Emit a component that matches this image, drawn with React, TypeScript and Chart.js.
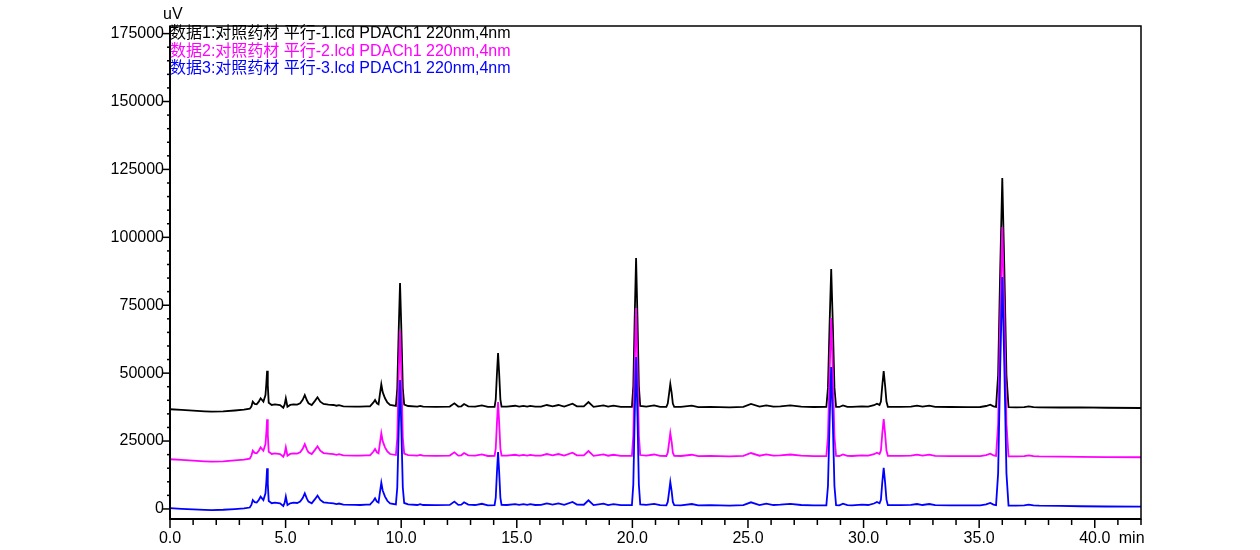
import React, { useEffect, useRef } from "react";
import { Chart, registerables } from "chart.js";

Chart.register(...registerables);

// Retention time (min)
const times = [
  0, 0.5, 1.0, 1.5, 1.8, 2.3, 2.8, 3.2, 3.45, 3.52,
  3.58, 3.66, 3.75, 3.84, 3.92, 4.04, 4.13, 4.17, 4.2, 4.23,
  4.27, 4.4, 4.54, 4.76, 4.9, 4.96, 5.01, 5.08, 5.2, 5.34,
  5.5, 5.63, 5.74, 5.83, 5.92, 5.99, 6.13, 6.27, 6.38, 6.5,
  6.64, 6.85, 7.07, 7.2, 7.31, 7.5, 8.0, 8.22, 8.5, 8.65,
  8.8, 8.87, 8.95, 9.02, 9.08, 9.14, 9.2, 9.3, 9.4, 9.52,
  9.77, 9.83, 9.89, 9.95, 10.01, 10.07, 10.13, 10.3, 10.7, 10.82,
  10.95, 11.5, 12.1, 12.3, 12.47, 12.6, 12.72, 12.9, 13.2, 13.49,
  13.75, 14.04, 14.09, 14.14, 14.19, 14.24, 14.29, 14.34, 14.57, 14.93,
  15.1, 15.29, 15.45, 15.58, 15.8, 16.05, 16.3, 16.55, 16.8, 17.05,
  17.41, 17.6, 17.9, 18.1, 18.32, 18.75, 18.95, 19.18, 19.5, 19.98,
  20.04, 20.1, 20.16, 20.22, 20.28, 20.34, 20.6, 20.94, 21.2, 21.47,
  21.53, 21.59, 21.64, 21.7, 21.75, 21.81, 22.1, 22.57, 22.85, 23.37,
  24.2, 24.8, 25.13, 25.5, 25.79, 26.1, 26.4, 26.83, 27.3, 27.84,
  28.39, 28.46, 28.53, 28.6, 28.67, 28.74, 28.81, 28.95, 29.11, 29.3,
  29.5, 29.93, 30.2, 30.45, 30.58, 30.69, 30.75, 30.81, 30.87, 30.93,
  30.99, 31.05, 31.6, 32.05, 32.31, 32.55, 32.84, 33.1, 33.75, 34.5,
  35.05, 35.3, 35.48, 35.62, 35.73, 35.82, 35.91, 36.0, 36.09, 36.18,
  36.27, 36.6, 36.95, 37.14, 37.35, 37.6, 38.5, 39.38, 40.5, 42.0,
];

// 数据1 (black), uV
const data1 = [
  36700, 36450, 36200, 35950, 35810, 35950, 36250, 36550, 36900, 37700,
  39490, 38700, 38530, 39500, 40740, 39490, 41950, 46500, 50900, 45500,
  39120, 38300, 38530, 38270, 37280, 38500, 40740, 37650, 38300, 38530,
  38400, 38900, 40200, 41950, 40000, 38900, 38270, 39800, 41110, 39500,
  38640, 38400, 38270, 38000, 38200, 37800, 37700, 37650, 37800, 37790,
  39200, 40110, 38900, 38530, 42300, 45890, 43000, 40740, 39200, 38270,
  37900, 44240, 65060, 83170, 65200, 44400, 38400, 37900, 37650, 37950,
  37650, 37600, 37700, 38900, 37700, 37800, 38640, 37800, 37650, 38100,
  37550, 37600, 40370, 49480, 57400, 49480, 40370, 37700, 37650, 38000,
  37700, 37950, 37700, 37950, 37650, 37700, 38270, 37800, 38270, 37700,
  38760, 37800, 37750, 39380, 37600, 38150, 37650, 38000, 37600, 37600,
  45270, 70460, 92370, 70460, 45270, 37900, 37700, 38100, 37600, 37550,
  38780, 42640, 46000, 42640, 38780, 37600, 37550, 38010, 37500, 37600,
  37420, 37600, 38640, 37650, 38140, 37650, 37800, 38100, 37650, 37530,
  37550, 44660, 68010, 88320, 68010, 44660, 37600, 37550, 38140, 37600,
  37550, 37780, 37650, 38200, 38760, 38300, 39530, 45550, 50780, 45550,
  39530, 37600, 37600, 37700, 38020, 37650, 38020, 37600, 37530, 37500,
  37530, 37900, 38390, 37800, 37600, 49300, 88090, 121810, 88090, 49300,
  37450, 37400, 37500, 37780, 37500, 37400, 37350, 37410, 37250, 37170,
];

// 数据2 (magenta), uV
const data2 = [
  18300, 18050, 17800, 17550, 17420, 17550, 17850, 18150, 18500, 19650,
  21440, 20650, 20480, 21450, 22690, 21440, 23900, 28450, 33010, 27450,
  21070, 20250, 20480, 20220, 19230, 20450, 22690, 19600, 20250, 20480,
  20350, 20850, 22150, 23900, 21950, 20850, 20220, 21750, 23060, 21450,
  20590, 20350, 20220, 19950, 20150, 19750, 19650, 19600, 19750, 19740,
  21150, 22060, 20850, 20480, 24250, 27860, 24950, 22690, 21150, 20220,
  19850, 26000, 48500, 65870, 48600, 26200, 20350, 19850, 19600, 19900,
  19600, 19550, 19650, 20850, 19650, 19750, 20590, 19750, 19600, 20050,
  19500, 19550, 22320, 31430, 39380, 31430, 22320, 19650, 19600, 19950,
  19650, 19900, 19650, 19900, 19600, 19650, 20220, 19750, 20220, 19650,
  20710, 19750, 19700, 21330, 19550, 20100, 19600, 19950, 19550, 19550,
  27000, 52200, 73970, 52200, 27000, 19850, 19650, 20050, 19550, 19500,
  20730, 24590, 27970, 24590, 20730, 19550, 19500, 19960, 19450, 19550,
  19370, 19550, 20590, 19600, 20090, 19600, 19750, 20050, 19600, 19480,
  19500, 26610, 49960, 70290, 49960, 26610, 19550, 19500, 20090, 19550,
  19500, 19730, 19600, 20150, 20710, 20250, 21500, 27800, 33120, 27800,
  21500, 19550, 19550, 19650, 19970, 19600, 19970, 19550, 19480, 19450,
  19480, 19850, 20340, 19750, 19550, 31250, 70000, 103780, 70000, 31250,
  19400, 19350, 19450, 19730, 19450, 19350, 19300, 19200, 19100, 19030,
];

// 数据3 (blue), uV
const data3 = [
  270, 50, -150, -330, -400, -300, -50, 200, 520, 1500,
  3290, 2500, 2330, 3300, 4540, 3290, 5750, 10300, 14980, 9300,
  2920, 2100, 2330, 2070, 1080, 2300, 4540, 1450, 2100, 2330,
  2200, 2700, 4000, 5750, 3800, 2700, 2070, 3600, 4910, 3300,
  2440, 2200, 2070, 1800, 2000, 1600, 1500, 1450, 1600, 1590,
  3000, 3910, 2700, 2330, 6100, 9690, 6800, 4540, 3000, 2070,
  1700, 7800, 28400, 47470, 28500, 7900, 2200, 1700, 1450, 1750,
  1450, 1400, 1500, 2700, 1500, 1600, 2440, 1600, 1450, 1900,
  1350, 1400, 4200, 13200, 20980, 13200, 4200, 1500, 1450, 1800,
  1500, 1750, 1500, 1750, 1450, 1500, 2070, 1600, 2070, 1500,
  2560, 1600, 1550, 3180, 1400, 1950, 1450, 1800, 1400, 1400,
  9000, 34000, 55940, 34000, 9000, 1700, 1500, 1900, 1400, 1350,
  2580, 6440, 9940, 6440, 2580, 1400, 1350, 1810, 1300, 1400,
  1220, 1400, 2440, 1450, 1940, 1450, 1600, 1900, 1450, 1330,
  1350, 8460, 31810, 52260, 31810, 8460, 1400, 1350, 1940, 1400,
  1350, 1580, 1450, 2000, 2560, 2100, 3400, 9900, 15090, 9900,
  3400, 1400, 1400, 1500, 1820, 1450, 1820, 1400, 1330, 1300,
  1330, 1700, 2190, 1600, 1400, 13100, 51900, 85380, 51900, 13100,
  1250, 1200, 1300, 1580, 1300, 1200, 1100, 1000, 900, 850,
];

const seriesNames = [
  "数据1:对照药材 平行-1.lcd PDACh1 220nm,4nm",
  "数据2:对照药材 平行-2.lcd PDACh1 220nm,4nm",
  "数据3:对照药材 平行-3.lcd PDACh1 220nm,4nm",
];
const seriesColors = ["#000000", "#FF00FF", "#0000FF"];

const xLabelTicks = [0, 5, 10, 15, 20, 25, 30, 35, 40];
const yLabelTicks = [0, 25000, 50000, 75000, 100000, 125000, 150000, 175000];
const xMinorStep = 1;
const yMinorStep = 5000;
const X_MIN = 0;
const X_MAX = 42;
const Y_MIN = -3700;
const Y_MAX = 177800;
const yUnit = "uV";
const xUnit = "min";

const FONT_FAMILY = '"Liberation Sans", Arial, "Noto Sans CJK SC", sans-serif';

const framePlugin = {
  id: "chromFrame",
  afterDraw(chart: any) {
    const { ctx, chartArea: a } = chart;
    const xs = chart.scales.x;
    const ys = chart.scales.y;
    ctx.save();
    ctx.strokeStyle = "#000";
    ctx.lineWidth = 1.5;
    // x ticks
    for (let t = X_MIN; t <= X_MAX + 1e-9; t += xMinorStep) {
      const px = xs.getPixelForValue(t);
      const major = Math.abs(t % 5) < 1e-9;
      ctx.beginPath();
      ctx.moveTo(px, a.bottom);
      ctx.lineTo(px, a.bottom + (major ? 9 : 6));
      ctx.stroke();
    }
    // y ticks
    for (let v = 0; v <= yLabelTicks[yLabelTicks.length - 1]; v += yMinorStep) {
      const py = ys.getPixelForValue(v);
      const major = v % 25000 === 0;
      ctx.beginPath();
      ctx.moveTo(a.left, py);
      ctx.lineTo(a.left - (major ? 7 : 3), py);
      ctx.stroke();
    }
    // frame
    ctx.lineWidth = 1.5;
    ctx.strokeRect(a.left, a.top, a.right - a.left, a.bottom - a.top);
    ctx.lineWidth = 2;
    ctx.beginPath();
    ctx.moveTo(a.left, a.top);
    ctx.lineTo(a.left, a.bottom);
    ctx.lineTo(a.right, a.bottom);
    ctx.stroke();

    // texts
    ctx.font = `16px ${FONT_FAMILY}`;
    ctx.textBaseline = "middle";
    ctx.textAlign = "left";
    ctx.fillStyle = "#000";
    ctx.fillText(yUnit, a.left - 7, 15);
    ctx.fillText(xUnit, xs.getPixelForValue(40) + 24, a.bottom + 19.5);
    const offs = [8, 25.5, 43];
    seriesNames.forEach((n, i) => {
      ctx.fillStyle = seriesColors[i];
      ctx.fillText(n, a.left, a.top + offs[i]);
    });
    ctx.restore();
  },
};

export default function App() {
  const ref = useRef<HTMLCanvasElement | null>(null);

  useEffect(() => {
    if (!ref.current) return;
    const allData = [data1, data2, data3];
    const datasets = [2, 1, 0].map((i) => ({
      label: seriesNames[i],
      data: times.map((t, k) => ({ x: t, y: allData[i][k] })),
      borderColor: seriesColors[i],
      backgroundColor: seriesColors[i],
      borderWidth: 1.8,
      pointRadius: 0,
      tension: 0,
      fill: false,
    }));
    const chart = new Chart(ref.current, {
      type: "line",
      data: { datasets },
      options: {
        animation: false,
        responsive: false,
        devicePixelRatio: 1,
        layout: { padding: { top: 26, right: 119, left: 0, bottom: 0 } },
        plugins: {
          legend: { display: false },
          tooltip: { enabled: false },
          title: { display: false },
        },
        scales: {
          x: {
            type: "linear",
            min: X_MIN,
            max: X_MAX,
            grid: { display: false, drawTicks: false },
            border: { display: false },
            afterBuildTicks: (axis: any) => {
              axis.ticks = xLabelTicks.map((v) => ({ value: v }));
            },
            afterFit: (axis: any) => {
              axis.height = 31;
            },
            ticks: {
              autoSkip: false,
              maxRotation: 0,
              padding: 10,
              color: "#000",
              font: { family: FONT_FAMILY, size: 16 },
              callback: (v: any) => Number(v).toFixed(1),
            },
          },
          y: {
            type: "linear",
            min: Y_MIN,
            max: Y_MAX,
            grid: { display: false, drawTicks: false },
            border: { display: false },
            afterBuildTicks: (axis: any) => {
              axis.ticks = yLabelTicks.map((v) => ({ value: v }));
            },
            afterFit: (axis: any) => {
              axis.width = 170;
            },
            ticks: {
              autoSkip: false,
              padding: 6,
              color: "#000",
              font: { family: FONT_FAMILY, size: 16 },
              callback: (v: any) => String(v),
            },
          },
        },
      },
      plugins: [framePlugin],
    });
    return () => chart.destroy();
  }, []);

  return (
    <div style={{ position: "fixed", left: 0, top: 0, width: 1260, height: 550, background: "#fff" }}>
      <canvas ref={ref} width={1260} height={550} style={{ display: "block" }} />
    </div>
  );
}
